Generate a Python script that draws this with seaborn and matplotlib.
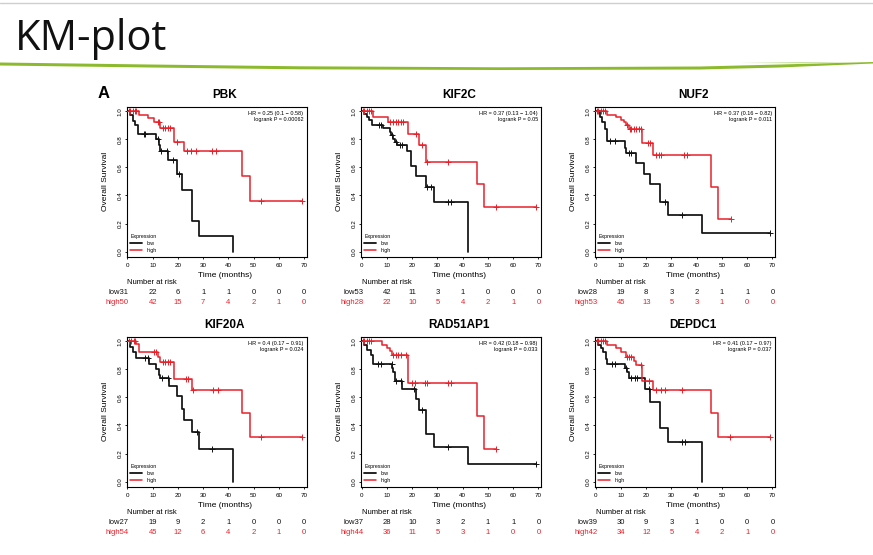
import numpy as np
import pandas as pd
import matplotlib
matplotlib.use("Agg")
import matplotlib.pyplot as plt
from matplotlib.patches import Polygon
from matplotlib.lines import Line2D
import seaborn as sns

# Panel order and annotation text
genes = ["PBK", "KIF2C", "NUF2", "KIF20A", "RAD51AP1", "DEPDC1"]
hr_text = ["HR = 0.25 (0.1 \u2212 0.58)", "HR = 0.37 (0.13 \u2212 1.04)", "HR = 0.37 (0.16 \u2212 0.82)",
           "HR = 0.4 (0.17 \u2212 0.91)", "HR = 0.42 (0.18 \u2212 0.98)", "HR = 0.41 (0.17 \u2212 0.97)"]
p_text = ["logrank P = 0.00062", "logrank P = 0.05", "logrank P = 0.011",
          "logrank P = 0.024", "logrank P = 0.033", "logrank P = 0.037"]
risk_times = [0, 10, 20, 30, 40, 50, 60, 70]

# PBK
pbk_low_t = [0, 1, 2, 3, 4, 11.5, 12.5, 13, 16, 19.5, 21.5, 25.5, 28.5, 42]
pbk_low_s = [1.0, 0.97, 0.93, 0.90, 0.84, 0.80, 0.76, 0.72, 0.65, 0.55, 0.44, 0.22, 0.11, 0.0]
pbk_low_c = [6.5, 7.1, 12.0, 13.3, 15.5, 18.2, 20.5]
pbk_high_t = [0, 4.5, 8, 10.5, 13, 18.5, 22.5, 45.5, 48.5, 69]
pbk_high_s = [1.0, 0.975, 0.95, 0.92, 0.88, 0.78, 0.72, 0.54, 0.36, 0.36]
pbk_high_c = [0.5, 1, 2, 3, 3.5, 12, 12.5, 14, 15, 16, 17, 19.5, 23.5, 25, 27, 33.5, 35, 53, 69]
pbk_risk_low = [31, 22, 6, 1, 1, 0, 0, 0]
pbk_risk_high = [50, 42, 15, 7, 4, 2, 1, 0]

# KIF2C
kif2c_low_t = [0, 1, 2, 3, 4, 8.5, 11, 11.5, 12.5, 13, 14, 18, 19.5, 21.5, 25.5, 28.5, 42]
kif2c_low_s = [1.0, 0.98, 0.96, 0.94, 0.90, 0.88, 0.85, 0.83, 0.80, 0.78, 0.76, 0.72, 0.61, 0.54, 0.46, 0.35, 0.0]
kif2c_low_c = [7, 7.5, 12, 13.5, 15, 16, 26, 27.5, 34, 35.5]
kif2c_high_t = [0, 4.5, 10.5, 18.5, 22.5, 25.5, 45.5, 48.5, 69]
kif2c_high_s = [1.0, 0.96, 0.92, 0.84, 0.76, 0.64, 0.48, 0.32, 0.32]
kif2c_high_c = [0.5, 1, 2, 3, 3.5, 11, 12.5, 13.5, 14.5, 15.5, 16.5, 21.5, 24, 26, 34, 53, 69]
kif2c_risk_low = [53, 42, 11, 3, 1, 0, 0, 0]
kif2c_risk_high = [28, 22, 10, 5, 4, 2, 1, 0]

# NUF2
nuf2_low_t = [0, 1.5, 2.5, 3.5, 4.5, 11.5, 12, 16, 19, 21.5, 25.5, 28.5, 42, 69]
nuf2_low_s = [1.0, 0.96, 0.92, 0.87, 0.79, 0.74, 0.70, 0.63, 0.55, 0.48, 0.35, 0.26, 0.13, 0.13]
nuf2_low_c = [5.5, 7.5, 13, 14, 27.5, 34, 69]
nuf2_high_t = [0, 4.5, 8, 10, 11, 12, 13, 18.5, 22.5, 45.5, 48.5, 53.5]
nuf2_high_s = [1.0, 0.975, 0.96, 0.94, 0.92, 0.90, 0.87, 0.77, 0.69, 0.46, 0.23, 0.23]
nuf2_high_c = [0.5, 1, 2, 3, 3.5, 12.5, 13.5, 14, 15, 16, 17, 18, 20.5, 21.5, 24, 25, 26, 35, 36, 53.5]
nuf2_risk_low = [28, 19, 8, 3, 2, 1, 1, 0]
nuf2_risk_high = [53, 45, 13, 5, 3, 1, 0, 0]

# KIF20A
kif20a_low_t = [0, 1, 2, 3.5, 8.5, 11.5, 12.5, 13, 16.5, 19.5, 21.5, 22.5, 25.5, 28.5, 42]
kif20a_low_s = [1.0, 0.96, 0.92, 0.88, 0.84, 0.80, 0.76, 0.74, 0.68, 0.61, 0.52, 0.44, 0.35, 0.23, 0.0]
kif20a_low_c = [7, 8, 13.5, 16, 27.5, 33.5]
kif20a_high_t = [0, 3.5, 4.5, 12, 13, 18.5, 25.5, 45.5, 48.5, 69]
kif20a_high_s = [1.0, 0.98, 0.92, 0.89, 0.85, 0.73, 0.65, 0.49, 0.32, 0.32]
kif20a_high_c = [0.5, 1.5, 2.5, 3, 10.5, 11.5, 14, 15, 16, 17, 23, 24, 26, 34, 36, 53, 69]
kif20a_risk_low = [27, 19, 9, 2, 1, 0, 0, 0]
kif20a_risk_high = [54, 45, 12, 6, 4, 2, 1, 0]

# RAD51AP1
rad_low_t = [0, 1, 2, 3.5, 4.5, 12, 12.5, 13, 16, 21.5, 22.5, 25.5, 28.5, 42, 69]
rad_low_s = [1.0, 0.97, 0.94, 0.90, 0.84, 0.81, 0.78, 0.72, 0.66, 0.59, 0.51, 0.34, 0.25, 0.125, 0.125]
rad_low_c = [6.5, 7.5, 11.8, 13.5, 15.5, 20.5, 24, 34, 69]
rad_high_t = [0, 8, 10, 11, 12, 18.5, 45.5, 48.5, 53]
rad_high_s = [1.0, 0.97, 0.95, 0.93, 0.90, 0.70, 0.47, 0.23, 0.23]
rad_high_c = [0.5, 1, 2, 3, 3.5, 12.5, 13.5, 14.5, 15.5, 17.5, 20, 21, 25, 26, 34, 35.5, 53]
rad_risk_low = [37, 28, 10, 3, 2, 1, 1, 0]
rad_risk_high = [44, 36, 11, 5, 3, 1, 0, 0]

# DEPDC1
depdc1_low_t = [0, 1, 2, 3, 4, 4.5, 11.5, 12.5, 13, 19.5, 21.5, 25.5, 28.5, 42]
depdc1_low_s = [1.0, 0.97, 0.95, 0.92, 0.87, 0.84, 0.81, 0.78, 0.74, 0.66, 0.57, 0.38, 0.28, 0.0]
depdc1_low_c = [6.5, 7.5, 12, 14, 15.5, 16.5, 21, 34, 35.5]
depdc1_high_t = [0, 4.5, 8, 10, 12, 15, 16, 18.5, 22.5, 45.5, 48.5, 69]
depdc1_high_s = [1.0, 0.975, 0.95, 0.92, 0.89, 0.86, 0.83, 0.72, 0.65, 0.49, 0.32, 0.32]
depdc1_high_c = [0.5, 1, 2, 3, 3.5, 12.5, 13, 14, 18, 21, 24, 26, 27.5, 34, 53, 69]
depdc1_risk_low = [39, 30, 9, 3, 1, 0, 0, 0]
depdc1_risk_high = [42, 34, 12, 5, 4, 2, 1, 0]

panels = [
    (pbk_low_t, pbk_low_s, pbk_low_c, pbk_high_t, pbk_high_s, pbk_high_c, pbk_risk_low, pbk_risk_high),
    (kif2c_low_t, kif2c_low_s, kif2c_low_c, kif2c_high_t, kif2c_high_s, kif2c_high_c, kif2c_risk_low, kif2c_risk_high),
    (nuf2_low_t, nuf2_low_s, nuf2_low_c, nuf2_high_t, nuf2_high_s, nuf2_high_c, nuf2_risk_low, nuf2_risk_high),
    (kif20a_low_t, kif20a_low_s, kif20a_low_c, kif20a_high_t, kif20a_high_s, kif20a_high_c, kif20a_risk_low, kif20a_risk_high),
    (rad_low_t, rad_low_s, rad_low_c, rad_high_t, rad_high_s, rad_high_c, rad_risk_low, rad_risk_high),
    (depdc1_low_t, depdc1_low_s, depdc1_low_c, depdc1_high_t, depdc1_high_s, depdc1_high_c, depdc1_risk_low, depdc1_risk_high),
]

LOW_COLOR = "#111111"
HIGH_COLOR = "#e8202a"
W, H = 873, 555

sns.set_theme(style="ticks", rc={"text.color": "black", "axes.labelcolor": "black",
                                 "xtick.color": "black", "ytick.color": "black",
                                 "axes.edgecolor": "black"})
plt.rcParams["font.family"] = ["Liberation Sans", "DejaVu Sans"]


def step_value(times, surv, x):
    idx = np.searchsorted(np.asarray(times), np.asarray(x), side="right") - 1
    return np.asarray(surv)[idx]


def draw_curve(ax, times, surv, cens, color, lw):
    df = pd.DataFrame({"time": times, "surv": surv})
    sns.lineplot(data=df, x="time", y="surv", ax=ax, color=color, drawstyle="steps-post",
                 estimator=None, sort=False, linewidth=lw)
    cdf = pd.DataFrame({"time": cens, "surv": step_value(times, surv, cens)})
    sns.scatterplot(data=cdf, x="time", y="surv", ax=ax, marker="+", s=16, color=color,
                    linewidth=0.7, zorder=3)


def draw_panel(ax, i):
    low_t, low_s, low_c, high_t, high_s, high_c, risk_low, risk_high = panels[i]
    draw_curve(ax, low_t, low_s, low_c, LOW_COLOR, 1.25)
    draw_curve(ax, high_t, high_s, high_c, HIGH_COLOR, 1.1)

    ax.set_xlim(-0.3, 71)
    ax.set_ylim(-0.036, 1.032)
    ax.set_xticks(risk_times)
    ax.set_yticks([0.0, 0.2, 0.4, 0.6, 0.8, 1.0])
    ax.set_yticklabels(["0.0", "0.2", "0.4", "0.6", "0.8", "1.0"])
    ax.tick_params(labelsize=4.5, length=1.5, width=0.6, pad=1.5)
    ax.tick_params(axis="x", pad=3)
    ax.tick_params(axis="y", labelrotation=90)
    for lab in ax.get_yticklabels():
        lab.set_va("center")
    for sp in ax.spines.values():
        sp.set_visible(True)
        sp.set_linewidth(0.8)

    ax.set_xlabel("Time (months)", fontsize=6)
    ax.xaxis.set_label_coords(0.545, -0.105)
    ax.set_ylabel("Overall Survival", fontsize=6)
    ax.yaxis.set_label_coords(-0.10, 0.5)
    ax.text(0.545, 1.078, genes[i], transform=ax.transAxes, ha="center", va="center",
            fontsize=8.5, fontweight="bold")
    ax.text(0.982, 0.968, hr_text[i] + "\n" + p_text[i], transform=ax.transAxes,
            ha="right", va="top", fontsize=4, linespacing=1.15)

    handles = [Line2D([], [], color=LOW_COLOR, lw=1.3), Line2D([], [], color=HIGH_COLOR, lw=1.1)]
    ax.legend(handles, ["low", "high"], title="Expression", loc="lower left",
              bbox_to_anchor=(0.0, 0.0), frameon=False, fontsize=3.8, title_fontsize=3.8,
              handlelength=2.2, handletextpad=0.9, labelspacing=0.45, borderpad=0.15,
              alignment="left")

    # number at risk table
    tr = ax.get_xaxis_transform()
    ax.text(0, -0.173, "Number at risk", transform=tr, ha="left", va="center", fontsize=5.5)
    for row, (name, vals, color) in enumerate([("low", risk_low, LOW_COLOR), ("high", risk_high, HIGH_COLOR)]):
        y = -0.24 - 0.062 * row
        ax.text(0.6, y, f"{name}{vals[0]}", transform=tr, ha="right", va="center",
                fontsize=5.5, color=color)
        for t, v in zip(risk_times[1:], vals[1:]):
            ax.text(t, y, str(v), transform=tr, ha="center", va="center", fontsize=5.5, color=color)


fig = plt.figure(figsize=(W / 100, H / 100), dpi=100)

# slide decoration: header rule, title, green swoosh
bg = fig.add_axes([0, 0, 1, 1], zorder=-1)
bg.set_xlim(0, W)
bg.set_ylim(H, 0)
bg.axis("off")
bg.plot([0, W], [3, 3], color="#cfcfcf", lw=1.0)
bg.text(15, 50, "KM-plot", fontsize=30, va="baseline", ha="left",
        family=["Open Sans", "DejaVu Sans"], color="#111111")
swoosh = [(0, 62.5), (150, 64.5), (300, 66.3), (500, 67.3), (700, 66.5), (780, 64.5), (873, 62.0),
          (873, 63.5), (780, 67.5), (700, 69.5), (500, 70.0), (300, 69.3), (150, 67.5), (0, 65.5)]
bg.add_patch(Polygon(swoosh, closed=True, color="#8cba2c", lw=0))
bg.add_patch(Polygon([(740, 63.0), (800, 62.0), (860, 62.5), (800, 63.3)], closed=True,
                     color="#c9dfa0", lw=0))

fig.text(98 / W, 1 - 93.5 / H, "A", fontsize=12, fontweight="bold", ha="left", va="center")

lefts = [126.7, 361.0, 595.0]
tops = [106.7, 336.7]
aw, ah = 180.0, 150.0
for i in range(6):
    r, c = divmod(i, 3)
    ax = fig.add_axes([lefts[c] / W, 1 - (tops[r] + ah) / H, aw / W, ah / H])
    draw_panel(ax, i)

fig.savefig("out.png", dpi=100)
